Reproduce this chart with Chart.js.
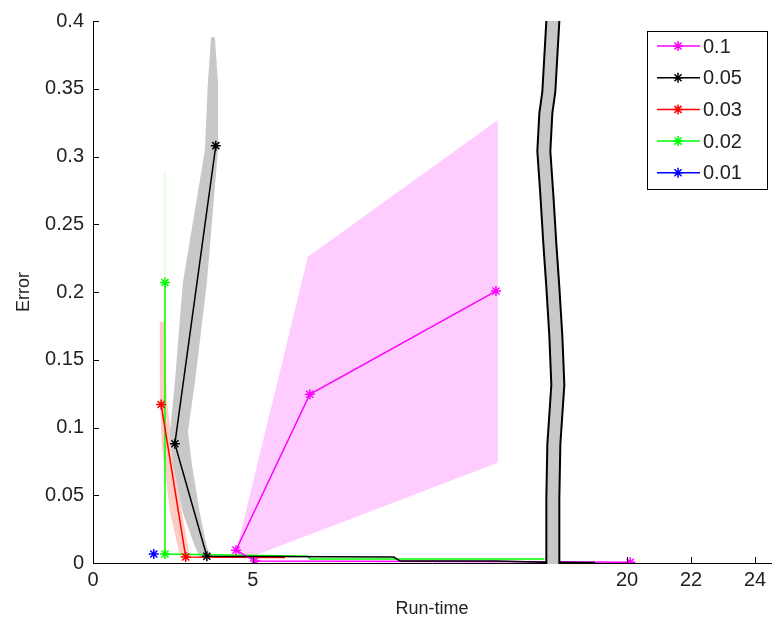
<!DOCTYPE html>
<html>
<head>
<meta charset="utf-8">
<script src="https://cdn.jsdelivr.net/npm/chart.js@4.4.1/dist/chart.umd.min.js"></script>
<style>
  html, body { margin: 0; padding: 0; background: #fff; }
</style>
</head>
<body>
<canvas id="errorChart" width="781" height="624"></canvas>
<script>
// series names (step size) and colours
const seriesNames = ['0.1', '0.05', '0.03', '0.02', '0.01']
const seriesColors = ['#ff00ff', '#000000', '#ff0000', '#00ff00', '#0000ff']

// mean curves: run-time vs error
const runTime01 = [12.6, 6.78, 4.47, 5.06, 14.5, 18.5, 20.1]
const error01 = [0.2007, 0.1245, 0.0095, 0.0015, 0.001, 0.0008, 0.0005]
const runTime005 = [3.84, 2.56, 3.56, 9.4, 9.6, 12.6, 15, 19]
const error005 = [0.308, 0.088, 0.005, 0.0044, 0.0015, 0.0015, 0.0005, 0.0003]
const runTime003 = [2.13, 2.9, 6.0]
const error003 = [0.117, 0.0044, 0.004]
const runTime002 = [2.25, 2.25, 6.7, 6.8, 14.5]
const error002 = [0.207, 0.0066, 0.005, 0.003, 0.003]
const runTime001 = [1.9]
const error001 = [0.0066]

// which points of each curve carry a '*' marker
const marked01 = [0, 1, 2, 3, 6]
const marked005 = [0, 1, 2]
const marked003 = [0, 1]
const marked002 = [0, 1]
const marked001 = [0]

// spread bands (closed outlines)
const bandX01 = [4.5, 6.72, 12.66, 12.66, 5.0, 4.55]
const bandY01 = [0.011, 0.226, 0.327, 0.074, 0.005, 0.007]
const bandX005 = [3.81, 3.91, 3.91, 3.56, 3.19, 2.97, 3.09, 3.34, 3.56, 3.69, 3.34, 3.19, 2.81, 2.5, 2.41, 2.56, 2.81, 3.5, 3.59, 3.69]
const bandY005 = [0.388, 0.354, 0.305, 0.207, 0.134, 0.097, 0.073, 0.037, 0.012, 0.004, 0.004, 0.012, 0.037, 0.073, 0.097, 0.134, 0.207, 0.305, 0.354, 0.388]
const bandX003 = [2.09, 2.25, 2.31, 2.5, 2.78, 3.03, 2.72, 2.41, 2.16, 2.09]
const bandY003 = [0.178, 0.178, 0.119, 0.085, 0.037, 0.005, 0.005, 0.037, 0.085, 0.119]
const bandX002 = [2.22, 2.27, 2.27, 2.22]
const bandY002 = [0.288, 0.288, 0.12, 0.12]

// axis ticks
const xTicks = [0, 5, 20, 22, 24]
const yTicks = [0, 0.05, 0.1, 0.15, 0.2, 0.25, 0.3, 0.35, 0.4]

// broken x axis: run-times between breakStart and breakEnd are squeezed
const breakStart = 14.05
const breakEnd = 17.9
const breakWidth = 0.55
const xMaxReal = 24.5

const squeeze = (x) => {
    if (x <= breakStart) return x
    if (x >= breakEnd) return x - (breakEnd - breakStart) + breakWidth
    return breakStart + (x - breakStart) / (breakEnd - breakStart) * breakWidth
}

const toPoints = (xs, ys) => xs.map((x, i) => ({ x: squeeze(x), y: ys[i] }))

const curves = [
    [runTime01, error01, marked01],
    [runTime005, error005, marked005],
    [runTime003, error003, marked003],
    [runTime002, error002, marked002],
    [runTime001, error001, marked001]
]
const bands = [
    [bandX01, bandY01, 'rgba(255,0,255,0.2)'],
    [bandX005, bandY005, 'rgba(200,200,200,1)'],
    [bandX003, bandY003, 'rgba(250,90,60,0.3)'],
    [bandX002, bandY002, 'rgba(0,255,0,0.13)']
]
const drawOrder = [3, 1, 4, 5, 2]

const datasets = []
curves.forEach(([xs, ys, marks], i) => {
    datasets.push({
        label: seriesNames[i],
        data: toPoints(xs, ys),
        showLine: true,
        borderColor: seriesColors[i],
        backgroundColor: seriesColors[i],
        borderWidth: 1.5,
        pointStyle: 'star',
        pointRadius: (c) => marks.includes(c.dataIndex) ? 5 : 0,
        pointBorderWidth: 1.5,
        pointBorderColor: seriesColors[i],
        order: drawOrder[i],
        fill: false
    })
})
bands.forEach(([xs, ys, col]) => {
    datasets.push({
        label: 'band',
        data: toPoints(xs, ys),
        showLine: true,
        borderWidth: 0,
        borderColor: 'rgba(0,0,0,0)',
        backgroundColor: col,
        pointRadius: 0,
        fill: 'shape',
        order: 10
    })
})

// axis break marker drawn over the lines
const axisBreak = {
    id: 'axisBreak',
    afterDatasetsDraw(chart) {
        const { ctx, chartArea } = chart
        const base = chart.scales.x.getPixelForValue(squeeze(breakStart))
        // wobble of the edges: [fraction of height, px offset]
        const wave = [[0, 4], [0.13, 0], [0.17, -3], [0.24, -5], [0.32, -2], [0.41, 1], [0.49, 4],
            [0.58, 7], [0.67, 9], [0.78, 5], [0.88, 4], [1, 4]]
        const gap = 13
        const top = chartArea.top
        const h = chartArea.bottom + 1 - top
        const l = wave.map(([f, o]) => [base + o, top + f * h])
        const r = wave.map(([f, o]) => [base + o + gap, top + f * h])
        ctx.save()
        ctx.beginPath()
        l.forEach(([x, y], i) => i ? ctx.lineTo(x, y) : ctx.moveTo(x, y))
        r.slice().reverse().forEach(([x, y]) => ctx.lineTo(x, y))
        ctx.closePath()
        ctx.fillStyle = '#c8c8c8'
        ctx.fill()
        ctx.strokeStyle = '#000'
        ctx.lineWidth = 2
        ;[l, r].forEach(pts => {
            ctx.beginPath()
            pts.forEach(([x, y], i) => i ? ctx.lineTo(x, y) : ctx.moveTo(x, y))
            ctx.stroke()
        })
        ctx.restore()
    }
}

// inward tick marks, matlab style
const innerTicks = {
    id: 'innerTicks',
    afterDraw(chart) {
        const { ctx, chartArea } = chart
        ctx.save()
        ctx.strokeStyle = '#000'
        ctx.lineWidth = 1
        ctx.beginPath()
        chart.scales.x.ticks.forEach(t => {
            const px = Math.round(chart.scales.x.getPixelForValue(t.value)) + 0.5
            ctx.moveTo(px, chartArea.bottom)
            ctx.lineTo(px, chartArea.bottom - 6)
        })
        chart.scales.y.ticks.forEach(t => {
            const py = Math.round(chart.scales.y.getPixelForValue(t.value)) + 0.5
            ctx.moveTo(chartArea.left, py)
            ctx.lineTo(chartArea.left + 6, py)
        })
        ctx.stroke()
        ctx.restore()
    }
}

// boxed legend with line + marker samples
const boxLegend = {
    id: 'boxLegend',
    afterDraw(chart) {
        const { ctx, chartArea } = chart
        const w = 120, h = 158, rowH = 31.7
        const x0 = chartArea.right - 124
        const y0 = chartArea.top + 10
        ctx.save()
        ctx.fillStyle = '#fff'
        ctx.fillRect(x0, y0, w, h)
        ctx.strokeStyle = '#000'
        ctx.lineWidth = 1
        ctx.strokeRect(x0 + 0.5, y0 + 0.5, w, h)
        ctx.font = '20px "Liberation Sans", Arial, sans-serif'
        ctx.textBaseline = 'middle'
        seriesNames.forEach((name, i) => {
            const y = y0 + 15 + i * rowH
            ctx.strokeStyle = seriesColors[i]
            ctx.lineWidth = 1.5
            ctx.beginPath()
            ctx.moveTo(x0 + 10, y)
            ctx.lineTo(x0 + 53, y)
            ctx.stroke()
            Chart.helpers.drawPoint(ctx, { pointStyle: 'star', radius: 5, borderWidth: 1.5, rotation: 0 }, x0 + 31, y)
            ctx.fillStyle = '#222'
            ctx.fillText(name, x0 + 56, y + 1)
        })
        ctx.restore()
    }
}

const tickFont = { family: '"Liberation Sans", Arial, sans-serif', size: 20 }
const titleFont = { family: '"Liberation Sans", Arial, sans-serif', size: 18 }

const ctx = document.getElementById('errorChart')
const errChart = new Chart(ctx, {
    type: 'scatter',
    data: { datasets: datasets },
    options: {
        responsive: false,
        animation: false,
        devicePixelRatio: 1,
        layout: { padding: { top: 17, right: 10, left: 0, bottom: 0 } },
        plugins: {
            legend: { display: false },
            tooltip: { enabled: false },
            filler: { drawTime: 'beforeDatasetsDraw' }
        },
        scales: {
            x: {
                type: 'linear',
                min: 0,
                max: squeeze(xMaxReal),
                afterBuildTicks: (s) => { s.ticks = xTicks.map(v => ({ value: squeeze(v) })) },
                afterFit: (s) => { s.height = 61 },
                grid: { display: false, drawTicks: false },
                border: { display: true, color: '#000', width: 1 },
                ticks: {
                    autoSkip: false,
                    maxRotation: 0,
                    padding: 5,
                    color: '#222',
                    font: tickFont,
                    callback: (v, i) => String(xTicks[i])
                },
                title: {
                    display: true,
                    text: 'Run-time',
                    color: '#222',
                    font: titleFont,
                    padding: { top: 0, bottom: 4 }
                }
            },
            y: {
                min: 0,
                max: 0.4,
                afterBuildTicks: (s) => { s.ticks = yTicks.map(v => ({ value: v })) },
                afterFit: (s) => { s.width = 93 },
                grid: { display: false, drawTicks: false },
                border: { display: true, color: '#000', width: 1 },
                ticks: {
                    padding: 9,
                    color: '#222',
                    font: tickFont,
                    callback: (v) => String(+v.toFixed(2))
                },
                title: {
                    display: true,
                    text: 'Error',
                    color: '#222',
                    font: titleFont,
                    padding: { top: 13, bottom: 0 }
                }
            }
        }
    },
    plugins: [axisBreak, innerTicks, boxLegend]
})
</script>
</body>
</html>
